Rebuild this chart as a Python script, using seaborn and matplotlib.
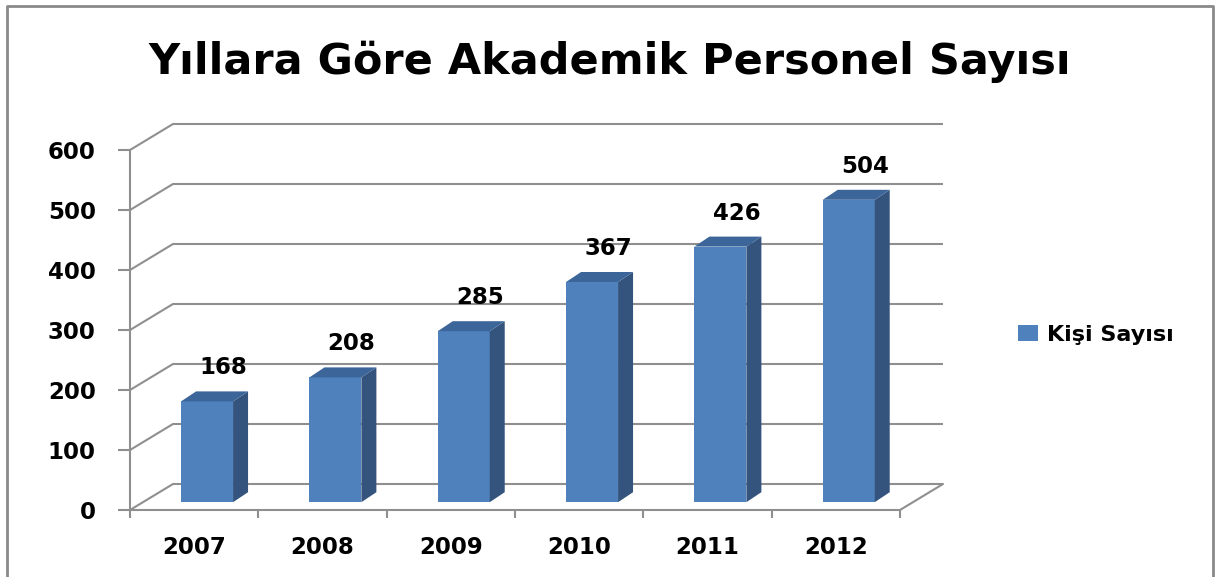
import matplotlib
matplotlib.use('Agg')
import matplotlib.pyplot as plt
from matplotlib.patches import Polygon, Patch
from matplotlib.lines import Line2D
import seaborn as sns
import pandas as pd

# chart data
years = ['2007', '2008', '2009', '2010', '2011', '2012']
counts = [168, 208, 285, 367, 426, 504]
series_name = 'Kişi Sayısı'
title = 'Yıllara Göre Akademik Personel Sayısı'
yticks = [0, 100, 200, 300, 400, 500, 600]

front_col = '#4F81BD'
side_col = '#34547E'
top_col = '#3C659A'
grid_col = '#8F8F8F'

sns.set_theme(style='white')
plt.rcParams['font.family'] = ['DejaVu Sans']
plt.rcParams['text.color'] = 'black'
plt.rcParams['xtick.labelcolor'] = 'black'
plt.rcParams['ytick.labelcolor'] = 'black'

W, H = 1215, 577
fig = plt.figure(figsize=(W / 100, H / 100), dpi=100)
ax = fig.add_axes([130 / W, 67 / H, 770 / W, 360 / H])

df = pd.DataFrame({'Yıl': years, series_name: counts})
sns.barplot(data=df, x='Yıl', y=series_name, color=front_col, width=0.405,
            saturation=1, ax=ax, zorder=3)
ax.set_xlim(-0.5, len(years) - 0.5)
ax.set_ylim(0, 600)

# pixel -> data unit helpers
ppx = 770 / len(years)
ppy = 360 / 600
wx, wy = 43 / ppx, 26 / ppy          # back wall offset
bx, by = 0.3 * wx, 0.3 * wy          # bar plane offset
dx, dy = 15 / ppx, 10 / ppy          # bar depth

# back wall gridlines and left wall diagonals
x_lo, x_hi = -0.5, len(years) - 0.5
for v in yticks:
    ax.plot([x_lo, x_lo + wx, x_hi + wx], [v, v + wy, v + wy], color=grid_col,
            lw=1.5, clip_on=False, zorder=1, solid_capstyle='butt')
# floor right edge
ax.plot([x_hi, x_hi + wx], [0, wy], color=grid_col, lw=1.5, clip_on=False, zorder=1)

# 3d bars
for p, v in zip(ax.patches, counts):
    x0 = p.get_x() + bx
    w = p.get_width()
    h = p.get_height()
    p.set_x(x0)
    p.set_y(by)
    p.set_edgecolor('none')
    y1 = by + h
    ax.add_patch(Polygon([(x0 + w, by), (x0 + w + dx, by + dy),
                          (x0 + w + dx, y1 + dy), (x0 + w, y1)],
                         closed=True, fc=side_col, ec='none', zorder=3, clip_on=False))
    ax.add_patch(Polygon([(x0, y1), (x0 + w, y1), (x0 + w + dx, y1 + dy),
                          (x0 + dx, y1 + dy)],
                         closed=True, fc=top_col, ec='none', zorder=3, clip_on=False))
    ax.text(x0 + w / 2 + 16 / ppx, y1 + dy + 12 / ppy, str(v), ha='center',
            va='bottom', fontsize=16.5, fontweight='bold', color='black', zorder=4)

# axes styling
for s in ['top', 'right']:
    ax.spines[s].set_visible(False)
for s in ['left', 'bottom']:
    ax.spines[s].set_color(grid_col)
    ax.spines[s].set_linewidth(1.5)
ax.set_yticks(yticks)
ax.set_yticklabels([str(t) for t in yticks], fontsize=16.5, fontweight='bold')
ax.tick_params(axis='y', length=8.6, width=1.5, color=grid_col, pad=16, left=True)
ax.set_xticks(range(len(years)))
ax.set_xticklabels(years, fontsize=16.5, fontweight='bold')
ax.set_xticks([i - 0.5 for i in range(len(years) + 1)], minor=True)
ax.tick_params(axis='x', which='major', length=0, pad=19)
ax.tick_params(axis='x', which='minor', length=6, width=1.5, color=grid_col, bottom=True)
ax.set_xlabel('')
ax.set_ylabel('')
ax.grid(False)

# title
fig.text(610 / W, 1 - 74 / H, title, ha='center', va='baseline',
         fontsize=31, fontweight='bold', color='black')

# legend
handle = Patch(facecolor=front_col, edgecolor='none', label=series_name)
fig.legend(handles=[handle], loc='center left', bbox_to_anchor=(1018 / W, 1 - 335 / H),
           frameon=False, borderpad=0, borderaxespad=0, handlelength=0.9,
           handleheight=0.7, handletextpad=0.4,
           prop={'size': 16, 'weight': 'bold'})

# chart border (left, top, right)
fig.add_artist(Line2D([7 / W, 7 / W, 1213 / W, 1213 / W], [0, 1 - 6 / H, 1 - 6 / H, 0],
                      color='#8A8A8A', lw=2, transform=fig.transFigure))

fig.savefig('out.png', dpi=100)
